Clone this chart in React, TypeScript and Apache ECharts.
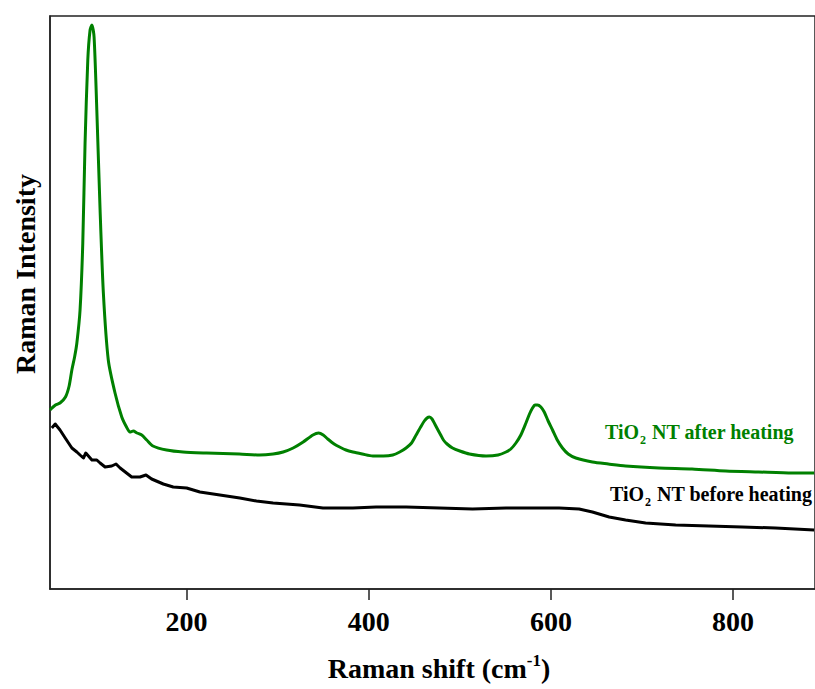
import React, { useEffect, useRef } from "react";
import * as echarts from "echarts";

// Raman shift (cm-1) and relative intensity (arbitrary units)
const afterShift = [50, 56, 61, 67, 71, 74, 77, 79.5, 83, 86, 88.5, 91.5, 94, 96, 98.4, 101.4, 105, 108.6, 114, 121.4, 128.8, 134, 137.8, 141.5, 145.5, 150.7, 156.2, 163, 178, 196, 222, 258, 280, 295, 306, 317, 328, 338.7, 345, 350, 355, 362, 368, 375, 382.6, 393, 404.5, 416, 426.4, 434, 441, 447, 452, 457, 461, 464, 466.6, 469.5, 472.5, 476, 479, 482, 486, 492, 500, 510.5, 528.8, 542, 550.7, 556, 561.6, 567, 572.6, 576.5, 579.8, 582.5, 585.3, 589, 592.7, 597, 601.8, 607, 612.7, 619, 627.4, 645.6, 663, 682, 718.7, 755, 792, 828, 865, 889];
const afterIntensity = [179, 184, 186, 192, 203, 219, 232, 246, 279, 346, 446, 529, 559, 564, 552, 479, 379, 296, 229, 196, 172, 162, 157, 158, 156, 154, 149, 143, 139, 137, 136, 135, 134, 135, 137, 141, 147, 154, 156, 154, 150, 145, 142, 139, 137, 135, 133, 133, 134, 137, 141, 146, 154, 162, 168, 171, 172, 170, 165, 159, 154, 149, 145, 141, 138, 135, 133, 134, 137, 140, 146, 154, 166, 175, 181, 184, 184, 182, 177, 168, 159, 149, 141, 135, 131, 127, 125, 123, 121, 120, 118, 117, 116, 116];

const beforeShift = [52, 55.7, 61, 66.7, 74, 79.5, 83, 86.7, 89.3, 96, 101.4, 105, 110.5, 117.8, 122.5, 127, 139.7, 148.8, 155.4, 161.6, 174.4, 185.3, 200, 214.6, 236.5, 258.4, 276.7, 295, 324, 349.7, 382.6, 408, 441, 477.6, 514, 550.7, 580, 609, 631, 645.6, 664, 682, 704, 737, 773.5, 810, 846.6, 889];
const beforeIntensity = [161, 165, 159, 151, 141, 137, 134, 131, 136, 129, 129, 126, 122, 123, 125, 121, 112, 112, 114, 110, 105, 102, 101, 97, 94, 91, 88, 86, 84, 81, 81, 82, 82, 81, 80, 81, 81, 81, 80, 77, 72, 69, 66, 64, 63, 62, 61, 59];

const tickValues = [200, 400, 600, 800];
const xTitle = ["Raman shift (cm", "-1", ")"];
const yTitle = "Raman Intensity";
const seriesLabels = [
  ["TiO", "2", " NT after heating"],
  ["TiO", "2", " NT before heating"],
];

const FONT = "'Liberation Serif', 'Times New Roman', 'DejaVu Serif', serif";

export default function App() {
  const ref = useRef<HTMLDivElement>(null);
  useEffect(() => {
    if (!ref.current) return;
    const chart = echarts.init(ref.current, null, { renderer: "svg" });
    const after = afterShift.map((x, i) => [x, afterIntensity[i]]);
    const before = beforeShift.map((x, i) => [x, beforeIntensity[i]]);
    chart.setOption({
      animation: false,
      backgroundColor: "#ffffff",
      grid: {
        left: 50,
        top: 16,
        bottom: 100,
        right: -2,
        show: true,
        borderColor: "#222",
        borderWidth: 1.5,
        backgroundColor: "transparent",
      },
      xAxis: {
        type: "value",
        min: 50,
        max: 890,
        axisLine: { show: true, lineStyle: { color: "#222", width: 1.5 } },
        axisTick: {
          show: true,
          inside: false,
          length: 11,
          customValues: tickValues,
          lineStyle: { color: "#222", width: 1.5 },
        },
        axisLabel: {
          customValues: tickValues,
          margin: 18,
          fontFamily: FONT,
          fontWeight: "bold",
          fontSize: 28,
          color: "#000",
        },
        splitLine: { show: false },
      },
      yAxis: {
        type: "value",
        min: 0,
        max: 573,
        axisLine: { show: true, lineStyle: { color: "#222", width: 1.5 } },
        axisTick: { show: false },
        axisLabel: { show: false },
        splitLine: { show: false },
      },
      series: [
        {
          type: "line",
          data: after,
          showSymbol: false,
          smooth: 0.25,
          lineStyle: { color: "#008000", width: 3, join: "round" },
          clip: true,
        },
        {
          type: "line",
          data: before,
          showSymbol: false,
          smooth: false,
          lineStyle: { color: "#000000", width: 3, join: "round" },
          clip: true,
        },
      ],
      graphic: [
        {
          type: "text",
          x: 439,
          y: 668,
          style: {
            text: `{a|${xTitle[0]}}{s|${xTitle[1]}}{a|${xTitle[2]}}`,
            align: "center",
            verticalAlign: "middle",
            rich: {
              a: { fontFamily: FONT, fontWeight: "bold", fontSize: 28, fill: "#000" },
              s: { fontFamily: FONT, fontWeight: "bold", fontSize: 17, fill: "#000", padding: [0, 0, 16, 0] },
            },
          },
        },
        {
          type: "text",
          x: 25,
          y: 274,
          rotation: Math.PI / 2,
          style: {
            text: yTitle,
            align: "center",
            verticalAlign: "middle",
            fontFamily: FONT,
            fontWeight: "bold",
            fontSize: 28,
            fill: "#000",
          },
        },
        {
          type: "text",
          x: 605,
          y: 432,
          style: {
            text: `{a|${seriesLabels[0][0]}}{s|${seriesLabels[0][1]}}{a|${seriesLabels[0][2]}}`,
            align: "left",
            verticalAlign: "middle",
            rich: {
              a: { fontFamily: FONT, fontWeight: "bold", fontSize: 20, fill: "#008000" },
              s: { fontFamily: FONT, fontWeight: "bold", fontSize: 12, fill: "#008000", padding: [16, 1, 0, 1] },
            },
          },
        },
        {
          type: "text",
          x: 610,
          y: 494,
          style: {
            text: `{a|${seriesLabels[1][0]}}{s|${seriesLabels[1][1]}}{a|${seriesLabels[1][2]}}`,
            align: "left",
            verticalAlign: "middle",
            rich: {
              a: { fontFamily: FONT, fontWeight: "bold", fontSize: 20, fill: "#000" },
              s: { fontFamily: FONT, fontWeight: "bold", fontSize: 12, fill: "#000", padding: [16, 1, 0, 1] },
            },
          },
        },
      ],
    });
    return () => chart.dispose();
  }, []);
  return (
    <div
      ref={ref}
      style={{ position: "absolute", left: 0, top: 0, width: 815, height: 689, overflow: "hidden" }}
    />
  );
}
